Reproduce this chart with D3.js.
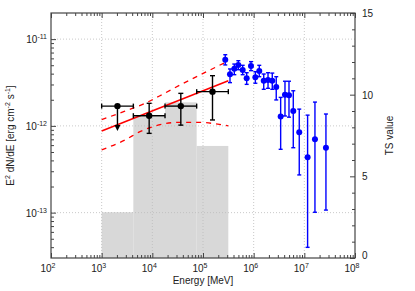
<!DOCTYPE html>
<html>
<head>
<meta charset="utf-8">
<script src="https://cdn.jsdelivr.net/npm/d3@7"></script>
<style>
  body { margin: 0; background: #fff; }
  text { font-family: "Liberation Sans", Arial, sans-serif; fill: #222; }
</style>
</head>
<body>
<svg width="415" height="291"></svg>
<script>
// TS histogram (right axis)
var tsEdges = [1e3, 4.22e3, 1.78e4, 7.50e4, 3.16e5];
var tsValues = [2.8, 8.65, 9.53, 6.86];

// LAT points (black)
var latE    = [2.05e3, 8.66e3, 3.65e4, 1.54e5];
var latEmin = [1e3, 4.22e3, 1.78e4, 7.50e4];
var latEmax = [4.22e3, 1.78e4, 7.50e4, 3.16e5];
var latF    = [1.69e-12, 1.31e-12, 1.69e-12, 2.48e-12];
var latFlo  = [8.73e-13, 8.20e-13, 1.02e-12, 1.17e-12];
var latFhi  = [1.69e-12, 1.82e-12, 2.37e-12, 3.79e-12];
var latUL   = [true, false, false, false];

// best fit and butterfly (red)
var modelE = [1e3, 3.16e5];
var modelF = [8.73e-13, 3.32e-12];
var upE = [1e3, 2.88e3, 7.16e3, 1.64e4, 3.52e4, 8.73e4, 3.16e5];
var upF = [1.18e-12, 1.48e-12, 1.82e-12, 2.33e-12, 2.96e-12, 3.86e-12, 5.6e-12];
var loE = [1e3, 2.88e3, 5.70e3, 1.13e4, 3.52e4, 7.50e4, 3.16e5];
var loF = [5.3e-13, 6.87e-13, 8.57e-13, 9.97e-13, 1.10e-12, 1.10e-12, 1.00e-12];

// blue points
var hessE  = [2.75e5, 3.41e5, 4.15e5, 4.98e5, 6.07e5, 7.28e5, 8.85e5, 1.08e6, 1.29e6, 1.58e6, 1.92e6,
              2.33e6, 2.79e6, 3.41e6, 4.15e6, 4.98e6, 6.05e6, 7.94e6, 1.16e7, 1.62e7, 2.67e7];
var hessF  = [5.79e-12, 3.93e-12, 4.56e-12, 5.04e-12, 4.41e-12, 3.53e-12, 4.90e-12, 3.63e-12, 4.29e-12, 3.32e-12, 3.38e-12,
              3.32e-12, 2.81e-12, 1.28e-12, 2.29e-12, 2.25e-12, 1.48e-12, 8.43e-13, 4.35e-13, 7.00e-13, 5.60e-13];
var hessHi = [6.61e-12, 4.53e-12, 5.16e-12, 5.64e-12, 4.99e-12, 4.10e-12, 5.50e-12, 4.21e-12, 4.99e-12, 3.96e-12, 4.10e-12,
              4.06e-12, 3.69e-12, 2.13e-12, 3.27e-12, 3.27e-12, 2.54e-12, 1.56e-12, 1.33e-12, 1.88e-12, 1.37e-12];
var hessLo = [5.04e-12, 3.15e-12, 3.89e-12, 4.44e-12, 3.89e-12, 3.01e-12, 4.33e-12, 3.10e-12, 3.69e-12, 2.64e-12, 2.71e-12,
              2.64e-12, 1.99e-12, 5.37e-13, 1.30e-12, 1.26e-12, 5.60e-13, 2.72e-13, 3.98e-14, 1.01e-13, 1.07e-13];

var xTicks = [1e2, 1e3, 1e4, 1e5, 1e6, 1e7, 1e8];
var yTicks = [1e-13, 1e-12, 1e-11];
var tsTicks = [0, 5, 10, 15];

var pL = 51, pR = 355, pT = 13, pB = 258;
var svg = d3.select("svg");

var x = d3.scaleLog().domain([1e2, 1e8]).range([pL, pR]);
var y = d3.scaleLog().domain([3e-14, 2e-11]).range([pB, pT]);
var ts = d3.scaleLinear().domain([0, 15]).range([pB, pT]);

// TS bars
svg.append("g").selectAll("rect")
  .data(tsValues)
  .enter().append("rect")
  .attr("x", (d, i) => x(tsEdges[i]))
  .attr("width", (d, i) => x(tsEdges[i + 1]) - x(tsEdges[i]))
  .attr("y", d => ts(d))
  .attr("height", d => pB - ts(d))
  .attr("fill", "#d8d8d8");

// grid
var grid = svg.append("g").attr("stroke", "#bbb").attr("stroke-width", 0.8).attr("stroke-dasharray", "1,2");
grid.selectAll(".gx").data(xTicks.slice(1, -1)).enter().append("line")
  .attr("x1", d => x(d)).attr("x2", d => x(d)).attr("y1", pT).attr("y2", pB);
grid.selectAll(".gy").data(yTicks).enter().append("line")
  .attr("x1", pL).attr("x2", pR).attr("y1", d => y(d)).attr("y2", d => y(d));

// model
var line = d3.line().x(d => x(d[0])).y(d => y(d[1])).curve(d3.curveMonotoneX);
svg.append("path").datum(upE.map((e, i) => [e, upF[i]]))
  .attr("d", line).attr("fill", "none").attr("stroke", "#ff0000").attr("stroke-width", 1.3).attr("stroke-dasharray", "5,5");
svg.append("path").datum(loE.map((e, i) => [e, loF[i]]))
  .attr("d", line).attr("fill", "none").attr("stroke", "#ff0000").attr("stroke-width", 1.3).attr("stroke-dasharray", "5,5");
svg.append("path").datum(modelE.map((e, i) => [e, modelF[i]]))
  .attr("d", line).attr("fill", "none").attr("stroke", "#ff0000").attr("stroke-width", 1.6);

// LAT points
var lat = svg.append("g").attr("stroke", "#000").attr("stroke-width", 1.4);
latE.forEach(function(e, i) {
  var cx = x(e), cy = y(latF[i]);
  lat.append("line").attr("x1", x(latEmin[i])).attr("x2", x(latEmax[i])).attr("y1", cy).attr("y2", cy);
  lat.append("line").attr("x1", x(latEmin[i])).attr("x2", x(latEmin[i])).attr("y1", cy - 2.5).attr("y2", cy + 2.5);
  lat.append("line").attr("x1", x(latEmax[i])).attr("x2", x(latEmax[i])).attr("y1", cy - 2.5).attr("y2", cy + 2.5);
  if (latUL[i]) {
    var ty = y(latFlo[i]);
    lat.append("line").attr("x1", cx).attr("x2", cx).attr("y1", cy).attr("y2", ty - 5);
    lat.append("path").attr("d", "M" + (cx - 3) + "," + (ty - 6) + "L" + (cx + 3) + "," + (ty - 6) + "L" + cx + "," + ty + "Z")
      .attr("fill", "#000").attr("stroke", "none");
  } else {
    var y1 = y(latFhi[i]), y2 = y(latFlo[i]);
    lat.append("line").attr("x1", cx).attr("x2", cx).attr("y1", y1).attr("y2", y2);
    lat.append("line").attr("x1", cx - 2.5).attr("x2", cx + 2.5).attr("y1", y1).attr("y2", y1);
    lat.append("line").attr("x1", cx - 2.5).attr("x2", cx + 2.5).attr("y1", y2).attr("y2", y2);
  }
  lat.append("circle").attr("cx", cx).attr("cy", cy).attr("r", 3.2).attr("fill", "#000").attr("stroke", "none");
});

// blue points
var hess = svg.append("g").attr("stroke", "#0000ff").attr("stroke-width", 1.4);
hessE.forEach(function(e, i) {
  var cx = x(e), y1 = y(hessHi[i]), y2 = y(hessLo[i]);
  hess.append("line").attr("x1", cx).attr("x2", cx).attr("y1", y1).attr("y2", y2);
  hess.append("line").attr("x1", cx - 2).attr("x2", cx + 2).attr("y1", y1).attr("y2", y1);
  hess.append("line").attr("x1", cx - 2).attr("x2", cx + 2).attr("y1", y2).attr("y2", y2);
  hess.append("circle").attr("cx", cx).attr("cy", y(hessF[i])).attr("r", 3).attr("fill", "#0000ff").attr("stroke", "none");
});

// axes
var xMinor = [], yMinor = [];
for (var p = 2; p < 8; p++) for (var m = 2; m < 10; m++) xMinor.push(m * Math.pow(10, p));
for (var p = -14; p < -10; p++) for (var m = 2; m < 10; m++) {
  var v = m * Math.pow(10, p);
  if (v > 3e-14 && v < 2e-11) yMinor.push(v);
}
var tsMinor = d3.range(1, 15).filter(d => d % 5);

function styleAxis(g) {
  g.select(".domain").remove();
  g.selectAll("line").attr("stroke", "#444");
}
svg.append("g").attr("transform", "translate(0," + pB + ")")
  .call(d3.axisBottom(x).tickValues(xTicks).tickSize(-5).tickFormat("")).call(styleAxis);
svg.append("g").attr("transform", "translate(0," + pB + ")")
  .call(d3.axisBottom(x).tickValues(xMinor).tickSize(-3).tickFormat("")).call(styleAxis);
svg.append("g").attr("transform", "translate(0," + pT + ")")
  .call(d3.axisTop(x).tickValues(xTicks).tickSize(-5).tickFormat("")).call(styleAxis);
svg.append("g").attr("transform", "translate(0," + pT + ")")
  .call(d3.axisTop(x).tickValues(xMinor).tickSize(-3).tickFormat("")).call(styleAxis);
svg.append("g").attr("transform", "translate(" + pL + ",0)")
  .call(d3.axisLeft(y).tickValues(yTicks).tickSize(-5).tickFormat("")).call(styleAxis);
svg.append("g").attr("transform", "translate(" + pL + ",0)")
  .call(d3.axisLeft(y).tickValues(yMinor).tickSize(-3).tickFormat("")).call(styleAxis);
svg.append("g").attr("transform", "translate(" + pR + ",0)")
  .call(d3.axisRight(ts).tickValues(tsTicks).tickSize(-5).tickFormat("")).call(styleAxis);
svg.append("g").attr("transform", "translate(" + pR + ",0)")
  .call(d3.axisRight(ts).tickValues(tsMinor).tickSize(-3).tickFormat("")).call(styleAxis);

svg.append("rect").attr("x", pL).attr("y", pT).attr("width", pR - pL).attr("height", pB - pT)
  .attr("fill", "none").attr("stroke", "#444").attr("stroke-width", 1.2);

// tick labels
xTicks.forEach(function(d) {
  var t = svg.append("text").attr("x", x(d) - 3).attr("y", pB + 14).attr("text-anchor", "middle").attr("font-size", 10);
  t.append("tspan").text("10");
  t.append("tspan").attr("dy", -4).attr("font-size", 7).text(Math.round(Math.log10(d)));
});
yTicks.forEach(function(d) {
  var t = svg.append("text").attr("x", pL - 4).attr("y", y(d) + 4).attr("text-anchor", "end").attr("font-size", 10);
  t.append("tspan").text("10");
  t.append("tspan").attr("dy", -4).attr("font-size", 7).text(Math.round(Math.log10(d)));
});
tsTicks.forEach(function(d) {
  svg.append("text").attr("x", pR + 7).attr("y", ts(d) + (d === 0 ? 1 : 4)).attr("font-size", 10).text(d);
});

// axis titles
svg.append("text").attr("x", (pL + pR) / 2).attr("y", 284).attr("text-anchor", "middle").attr("font-size", 10)
  .text("Energy [MeV]");
svg.append("text").attr("transform", "translate(393," + ((pT + pB) / 2) + ") rotate(-90)")
  .attr("text-anchor", "middle").attr("font-size", 10).text("TS value");
var yl = svg.append("text").attr("transform", "translate(14," + ((pT + pB) / 2) + ") rotate(-90)")
  .attr("text-anchor", "middle").attr("font-size", 10);
yl.append("tspan").text("E");
yl.append("tspan").attr("dy", -4).attr("font-size", 7).text("2");
yl.append("tspan").attr("dy", 4).text(" dN/dE [erg cm");
yl.append("tspan").attr("dy", -4).attr("font-size", 7).text("-2");
yl.append("tspan").attr("dy", 4).text(" s");
yl.append("tspan").attr("dy", -4).attr("font-size", 7).text("-1");
yl.append("tspan").attr("dy", 4).text("]");
</script>
</body>
</html>
